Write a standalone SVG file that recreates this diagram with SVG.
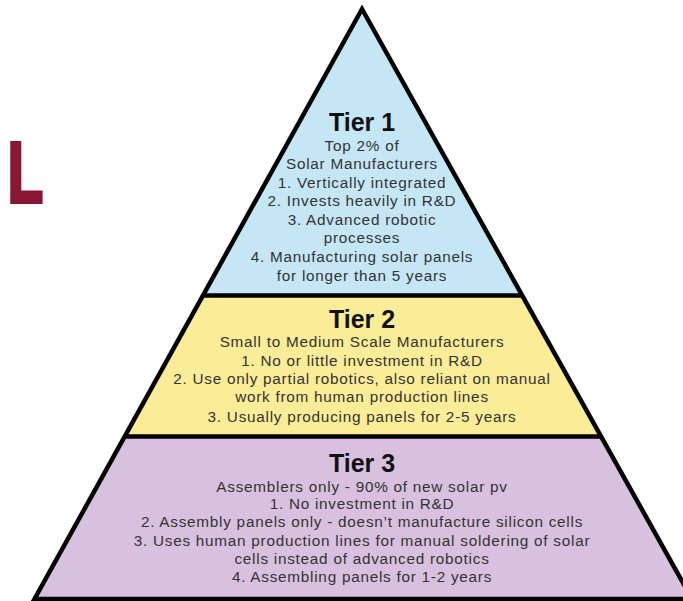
<svg xmlns="http://www.w3.org/2000/svg" width="683" height="601" viewBox="0 0 683 601">
<style>
.title{font-family:"Liberation Sans","Arial",sans-serif;font-weight:700;font-size:25px;fill:#111;text-anchor:middle}
.body{font-family:"Liberation Sans","Arial",sans-serif;font-size:15.3px;letter-spacing:0.75px;fill:#333;text-anchor:middle}
.edge{fill:none;stroke:#000;stroke-width:4.5;stroke-linejoin:miter}
</style>
<rect width="683" height="601" fill="#fff"/>
<text x="0" y="0" font-family="Liberation Sans, sans-serif" font-weight="700" font-size="85" fill="#8b1535" stroke="#8b1535" stroke-width="4" stroke-linejoin="miter" transform="translate(7.8 202) scale(0.68 1)">L</text>
<g id="tier1">
<polygon points="362,9 202.4,296 522.7,296" fill="#c5e6f5"/>
<text class="title" x="362" y="131">Tier 1</text>
<text class="body" x="362" y="151">Top 2% of</text>
<text class="body" x="362" y="169">Solar Manufacturers</text>
<text class="body" x="362" y="188">1. Vertically integrated</text>
<text class="body" x="362" y="206">2. Invests heavily in R&amp;D</text>
<text class="body" x="362" y="225">3. Advanced robotic</text>
<text class="body" x="362" y="243">processes</text>
<text class="body" x="362" y="262">4. Manufacturing solar panels</text>
<text class="body" x="362" y="281">for longer than 5 years</text>
</g>
<g id="tier2">
<polygon points="202.4,296 522.7,296 601.7,437 124,437" fill="#fbec97"/>
<text class="title" x="362" y="328">Tier 2</text>
<text class="body" x="362" y="347">Small to Medium Scale Manufacturers</text>
<text class="body" x="362" y="366">1. No or little investment in R&amp;D</text>
<text class="body" x="362" y="384">2. Use only partial robotics, also reliant on manual</text>
<text class="body" x="362" y="402">work from human production lines</text>
<text class="body" x="362" y="422">3. Usually producing panels for 2-5 years</text>
</g>
<g id="tier3">
<polygon points="124,437 601.7,437 692,599 34.5,599" fill="#d7c1de"/>
<text class="title" x="362" y="472">Tier 3</text>
<text class="body" x="362" y="492">Assemblers only - 90% of new solar pv</text>
<text class="body" x="362" y="509">1. No  investment in R&amp;D</text>
<text class="body" x="362" y="527">2. Assembly panels only - doesn’t manufacture silicon cells</text>
<text class="body" x="362" y="546">3. Uses human production lines for manual soldering of solar</text>
<text class="body" x="362" y="564">cells instead of advanced robotics</text>
<text class="body" x="362" y="582">4. Assembling panels for 1-2 years</text>
</g>
<g id="connectors">
<polygon class="edge" points="362,9 692,599 34.5,599"/>
<line class="edge" x1="202.4" y1="295.5" x2="522.7" y2="295.5"/>
<line class="edge" x1="124" y1="436.5" x2="601.7" y2="436.5"/>
</g>
</svg>
